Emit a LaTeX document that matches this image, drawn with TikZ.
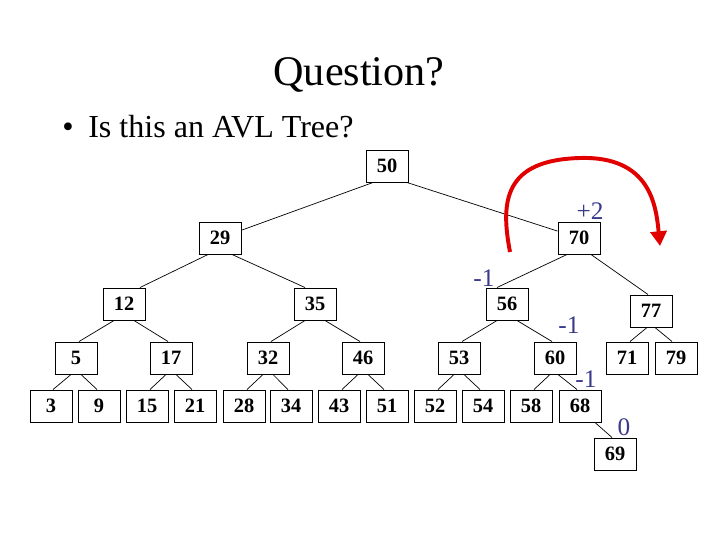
\documentclass[tikz,border=0pt]{standalone}
\usepackage{fontspec}
\setmainfont{Liberation Serif}
\usetikzlibrary{arrows.meta,calc}
\definecolor{balblue}{HTML}{3A3A8C}
\definecolor{rotred}{HTML}{E00000}

\begin{document}
\begin{tikzpicture}[x=0.025cm, y=-0.025cm,
  key/.style={draw, line width=0.7pt, minimum width=1.05cm, minimum height=0.8cm,
    inner sep=0pt, font=\bfseries\fontsize{14.5}{16}\selectfont},
  bal/.style={text=balblue, inner sep=0pt, font=\fontsize{18}{20}\selectfont},
  link/.style={line width=0.5pt}]
  \useasboundingbox (0,0) rectangle (720,540);

  % title and question
  \node[anchor=base, font=\fontsize{30}{36}\selectfont] (title) at (359,85) {Question?};
  \node[anchor=base, font=\fontsize{23}{26}\selectfont] (dot) at (68,137) {\textbullet};
  \node[anchor=base west, inner sep=0pt, font=\fontsize{22.8}{26}\selectfont] (ask) at (88,137) {Is this an AVL Tree?};

  % keys
  \foreach \k/\x/\y in {50/387/166, 29/220/238, 70/579/238,
      12/124/304, 35/315/304, 56/507/304, 77/651/311,
      5/76/358, 17/171/358, 32/268/358, 46/363/358, 53/459/358, 60/555/358, 71/627/358, 79/676/358,
      3/51/406, 9/99/406, 15/147/406, 21/195/406, 28/244/406, 34/291/406, 43/339/406,
      51/387/406, 52/435/406, 54/483/406, 58/531/406, 68/580/406,
      69/615/454}
    \node[key] (n\k) at (\x,\y) {\k};

  % links
  \draw[link] ($(n50.south)+(-14,0)$) -- (n29);
  \draw[link] ($(n50.south)+(20,0)$) -- (n70);
  \foreach \p/\c/\s/\e in {29/12/-12/16, 29/35/12/-10, 70/56/-12/-10, 70/77/12/-3,
      12/5/-10/3, 12/17/10/-3, 35/32/-10/3, 35/46/10/-3, 56/53/-10/3, 56/60/10/-3,
      77/71/-4/3, 77/79/4/-4,
      5/3/-5/2, 5/9/5/-2, 17/15/-5/3, 17/21/5/-3, 32/28/-5/3, 32/34/5/-3,
      46/43/-5/3, 46/51/5/-3, 53/52/-5/3, 53/54/5/-3, 60/58/-5/3, 60/68/3/-3,
      68/69/15/-3}
    \draw[link] ($(n\p.south)+(\s,0)$) -- ($(n\c.north)+(\e,0)$);

  % balance factors
  \node[bal] (bal70) at (590,211) {+2};
  \node[bal] (bal56) at (484,278) {-1};
  \node[bal] (bal60) at (569,325) {-1};
  \node[bal] (bal68) at (586,379) {-1};
  \node[bal] (bal69) at (624,427) {0};

  % rotation
  \coordinate (rotstart) at (510,252);
  \coordinate (rotend) at (660,246);
  \draw[rotred, line width=2.8pt, -{Triangle[length=10.5pt, width=11.5pt]}]
    (rotstart) .. controls (500,200) and (505,160) .. (580,158)
    .. controls (650,156) and (656,205) .. (rotend);
\end{tikzpicture}
\end{document}
